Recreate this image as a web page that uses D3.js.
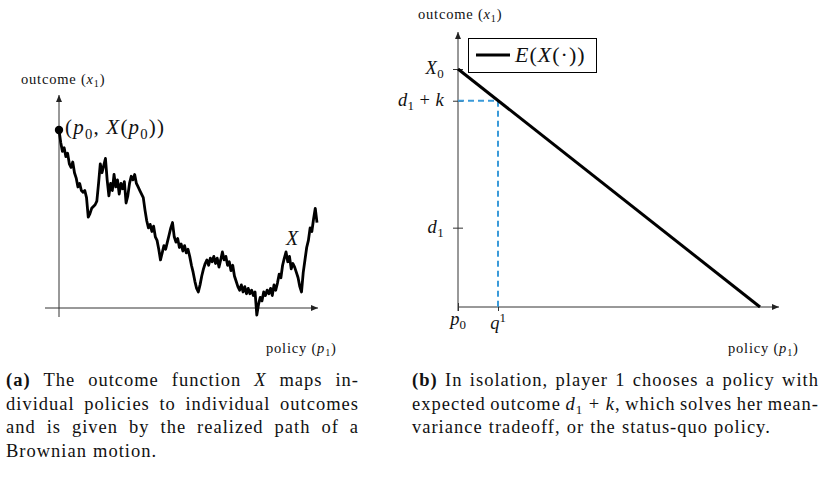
<!DOCTYPE html>
<html>
<head>
<meta charset="utf-8">
<script src="https://cdn.jsdelivr.net/npm/d3@7"></script>
<style>
body { margin: 0; background: #fff; }
text { font-family: "Liberation Serif", "Times New Roman", serif; fill: #111; white-space: pre; }
</style>
</head>
<body>
<svg id="chart" width="829" height="489"></svg>
<script>
// (a) realized Brownian path X(p), 151 steps over policy 0..100, X(p0) = 100
var pathValues = [
  100, 93, 88, 90, 85, 87, 81, 79, 82, 76, 73, 68, 70, 66, 65, 66, 62, 51, 53, 56,
  57, 58, 60, 70, 81, 76, 80, 84, 72, 63, 70, 66, 75, 68, 72, 64, 70, 67, 71, 59,
  63, 70, 74, 72, 75, 70, 68, 66, 64, 62, 55, 49, 45, 47, 43, 46, 40, 38, 33, 27,
  31, 35, 33, 37, 41, 45, 48, 40, 37, 39, 34, 36, 32, 35, 31, 33, 29, 24, 20, 15,
  11, 9, 13, 18, 22, 25, 27, 24, 28, 26, 29, 25, 28, 23, 27, 31.5, 27, 29, 24, 26,
  21, 24, 18, 15, 12, 10, 13, 9, 12, 8, 11, 8, 10, 7, 9, -4, 2, 6, 4, 9,
  7, 10, 8, 11, 7, 13, 10, 14, 19, 17, 24, 28, 31.5, 26, 29, 22, 25, 23, 20, 17,
  12, 9, 20, 27, 34, 38, 45, 43, 50, 56, 48
];

// (b) expected outcome E(X(p)) and the marked levels
var expectedLine = [[0, 6], [7.55, 0]];
var yTicksR = [6, 5.2, 2];
var yTickLabelsR = [
  [["X", "i"], ["0", "sub"]],
  [["d", "i"], ["1", "sub"], [" + ", "n"], ["k", "i"]],
  [["d", "i"], ["1", "sub"]]
];
var xTicksR = [0, 1];
var xTickLabelsR = [
  [["p", "i"], ["0", "sub"]],
  [["q", "i"], ["1", "sup"]]
];
var q1 = 1, d1k = 5.2;
var legendLabel = [["E", "i"], ["(", "n"], ["X", "i"], ["(·))", "n"]];

var yLabel = [["outcome (", "n"], ["x", "i"], ["1", "sub"], [")", "n"]];
var xLabel = [["policy (", "n"], ["p", "i"], ["1", "sub"], [")", "n"]];

function w(s) { return s.split(" ").map(function (t) { return [[t, "n"]]; }); }

var captionA = [
  [[["(a)", "b"]]].concat(w("The outcome function"), [[["X", "i"]]], w("maps in-")),
  w("dividual policies to individual outcomes"),
  w("and is given by the realized path of a"),
  w("Brownian motion.")
];
var captionB = [
  [[["(b)", "b"]]].concat(w("In isolation, player 1 chooses a policy with")),
  w("expected outcome").concat([[["d", "i"], ["1", "sub"], [" + ", "n"], ["k", "i"], [",", "n"]]], w("which solves her mean-")),
  w("variance tradeoff, or the status-quo policy.")
];

var svg = d3.select("#chart");

function rich(sel, parts, size, ls) {
  var shift = 0;
  if (ls) sel.style("letter-spacing", ls + "px");
  parts.forEach(function (p) {
    var t = sel.append("tspan").text(p[0]);
    var target = 0;
    if (p[1] == "i") t.style("font-style", "italic");
    if (p[1] == "b") t.style("font-weight", "bold");
    if (p[1] == "sub" || p[1] == "sup") {
      t.attr("font-size", size * 0.7);
      target = p[1] == "sub" ? size * 0.22 : -size * 0.38;
    }
    if (target - shift) t.attr("dy", target - shift);
    shift = target;
  });
  return sel;
}

function label(g, x, y, parts, size, anchor, ls) {
  var t = g.append("text").attr("x", x).attr("y", y).attr("font-size", size)
    .attr("text-anchor", anchor || "start");
  return rich(t, parts, size, ls);
}

function justify(g, lines, x0, width, y0, lh, size, ls) {
  lines.forEach(function (words, li) {
    var y = y0 + li * lh;
    var widths = words.map(function (wd) {
      var t = rich(g.append("text").attr("font-size", size), wd, size, ls);
      var len = t.node().getComputedTextLength();
      t.remove();
      return len;
    });
    var last = li == lines.length - 1;
    var gap = last ? size * 0.33 : (width - d3.sum(widths)) / (words.length - 1);
    var x = x0;
    words.forEach(function (wd, i) {
      rich(g.append("text").attr("x", x).attr("y", y).attr("font-size", size), wd, size, ls);
      x += widths[i] + gap;
    });
  });
}

function arrow(g, x1, y1, x2, y2) {
  g.append("line").attr("x1", x1).attr("y1", y1).attr("x2", x2).attr("y2", y2)
    .attr("stroke", "#333").attr("stroke-width", 1);
  var a = Math.atan2(y2 - y1, x2 - x1) * 180 / Math.PI;
  g.append("path").attr("d", "M0,0L-7,-3L-7,3Z").attr("fill", "#222")
    .attr("transform", "translate(" + x2 + "," + y2 + ") rotate(" + a + ")");
}

// ---------- (a) ----------
var xL = d3.scaleLinear().domain([0, 100]).range([59, 317]);
var yL = d3.scaleLinear().domain([0, 100]).range([308, 130]);
var gA = svg.append("g");

arrow(gA, 45, yL(0), 318, yL(0));
arrow(gA, xL(0), 317, xL(0), 95);

var line = d3.line()
  .x(function (d, i) { return xL(i * 100 / (pathValues.length - 1)); })
  .y(function (d) { return yL(d); });
gA.append("path").datum(pathValues).attr("d", line)
  .attr("fill", "none").attr("stroke", "#000").attr("stroke-width", 2.8)
  .attr("stroke-linejoin", "round");
gA.append("circle").attr("cx", xL(0)).attr("cy", yL(pathValues[0])).attr("r", 4.2).attr("fill", "#000");

label(gA, 65, 134, [["(", "n"], ["p", "i"], ["0", "sub"], [", ", "n"], ["X", "i"], ["(", "n"], ["p", "i"], ["0", "sub"], ["))", "n"]], 21, "start", 1.2);
label(gA, 286, 245, [["X", "i"]], 20);
label(gA, 21, 84, yLabel, 14.5, "start", 0.8);
label(gA, 266, 353, xLabel, 14.5, "start", 0.8);

// ---------- (b) ----------
var xR = d3.scaleLinear().domain([0, 8]).range([458, 778]);
var yR = d3.scaleLinear().domain([0, 6]).range([307, 69]);
var gB = svg.append("g");

arrow(gB, xR(0), yR(0), 779, yR(0));
arrow(gB, xR(0), 311, xR(0), 32);

gB.append("g").attr("transform", "translate(" + xR(0) + ",0)")
  .call(d3.axisLeft(yR).tickValues(yTicksR).tickSize(0).tickFormat(""))
  .call(function (g) { g.select(".domain").remove(); })
  .call(function (g) { g.selectAll(".tick line").attr("x1", -5).attr("x2", 5).attr("stroke", "#333"); });
gB.append("g").attr("transform", "translate(0," + yR(0) + ")")
  .call(d3.axisBottom(xR).tickValues(xTicksR).tickSize(0).tickFormat(""))
  .call(function (g) { g.select(".domain").remove(); })
  .call(function (g) { g.selectAll(".tick line").attr("y1", -4).attr("y2", 4).attr("stroke", "#333"); });

// dashed guides to d1 + k at q1
var blue = "#3a9ad9";
gB.append("line").attr("x1", xR(0)).attr("x2", xR(q1)).attr("y1", yR(d1k)).attr("y2", yR(d1k))
  .attr("stroke", blue).attr("stroke-width", 2).attr("stroke-dasharray", "6,4");
gB.append("line").attr("x1", xR(q1)).attr("x2", xR(q1)).attr("y1", yR(d1k)).attr("y2", yR(0))
  .attr("stroke", blue).attr("stroke-width", 2).attr("stroke-dasharray", "6,4");

gB.append("path").datum(expectedLine)
  .attr("d", d3.line().x(function (d) { return xR(d[0]); }).y(function (d) { return yR(d[1]); }))
  .attr("stroke", "#000").attr("stroke-width", 3);

yTicksR.forEach(function (v, i) {
  label(gB, 444, yR(v) + 5, yTickLabelsR[i], 18.5, "end", 0.4);
});
var xLabOff = [18, 22];
xTicksR.forEach(function (v, i) {
  label(gB, xR(v), yR(0) + xLabOff[i], xTickLabelsR[i], 18.5, "middle");
});

label(gB, 418, 19, yLabel, 14.5, "start", 0.8);
label(gB, 728, 353, xLabel, 14.5, "start", 0.8);

// legend
gB.append("rect").attr("x", 468.5).attr("y", 38.5).attr("width", 128).attr("height", 34)
  .attr("fill", "#fff").attr("stroke", "#000").attr("stroke-width", 1);
gB.append("line").attr("x1", 476).attr("x2", 510).attr("y1", 55).attr("y2", 55)
  .attr("stroke", "#000").attr("stroke-width", 3);
label(gB, 515, 62, legendLabel, 22, "start", 1);

// ---------- captions ----------
justify(svg.append("g"), captionA, 6, 353, 386, 23.7, 18.5, 1);
justify(svg.append("g"), captionB, 412, 407, 386, 23.7, 18.5, 1);
</script>
</body>
</html>
